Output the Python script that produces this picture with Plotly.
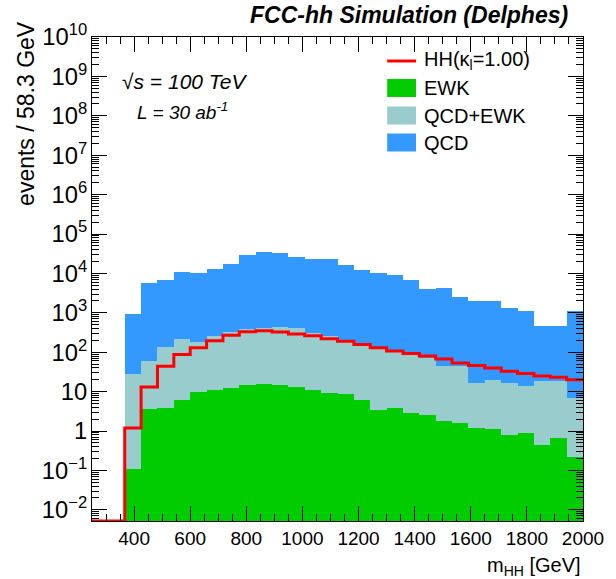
import numpy as np
import plotly.graph_objects as go

# ---------------- data ----------------
x_min, x_max = 250.0, 2000.0
n_bins = 30
y_log_min, y_log_max = -2.284, 10.0

# per-bin contributions (stacked), first two bins empty
ewk = [0, 0, 0.107, 3.6, 3.8, 6.3, 10, 11, 12.5, 15, 15.4, 14.4, 13.2, 11, 9.0,
       8.7, 6.3, 3.5, 3.8, 2.8, 2.6, 1.78, 1.64, 1.2, 1.1, 0.77, 0.9, 0.44, 0.65, 0.22]
qcd_ewk = [0, 0, 27.9, 56, 134, 207, 173, 249, 306, 365, 405, 431, 407, 289, 251,
           169, 144, 118, 96, 83, 69, 43, 43, 15.4, 18.4, 15.8, 12.9, 18.2, 18.0, 6.6]
qcd = [0, 0, 882, 5540, 6660, 10490, 10220, 12640, 17380, 29620, 33580, 32060, 25280,
       23300, 22440, 16020, 12150, 9880, 9000, 6914, 4028, 4255, 2405, 1983, 1980,
       1333, 1116, 441, 441, 1093]
hh = [0, 0, 1.2, 13, 44, 87, 129, 194, 270, 330, 350, 324, 288, 262, 218, 190, 158,
      130, 108, 93, 80, 67, 53, 46, 40, 33, 29, 25, 23, 20]

x_tick_vals = [400, 600, 800, 1000, 1200, 1400, 1600, 1800, 2000]

# ---------------- derived ----------------
edges = np.linspace(x_min, x_max, n_bins + 1)
centers = 0.5 * (edges[:-1] + edges[1:])
bw = edges[1] - edges[0]
floor = 10 ** y_log_min
hh_line = [v if v > 0 else floor for v in hh]
hh_line = hh_line + [hh_line[-1]]

C_EWK = "#00CC00"
C_QE = "#99CCCC"
C_QCD = "#3399FF"
C_HH = "#FF0000"
FONT = "Liberation Sans, Arial, Helvetica, sans-serif"

fig = go.Figure()
for vals, col, name in [(ewk, C_EWK, "EWK"), (qcd_ewk, C_QE, "QCD+EWK"), (qcd, C_QCD, "QCD")]:
    fig.add_trace(go.Bar(x=centers, y=vals, width=bw, marker=dict(color=col, line=dict(width=0)),
                         name=name, showlegend=False))
fig.add_trace(go.Scatter(x=edges, y=hh_line, mode="lines", line=dict(color=C_HH, width=3, shape="hv"),
                         showlegend=False))

# layout geometry (pixels)
W, H = 616, 579
L, R, T, B = 92, 586, 37, 521


def px(x):
    return (x - L) / (R - L)


def py(y):
    return (B - y) / (B - T)


fig.update_layout(
    width=W, height=H, barmode="stack", bargap=0,
    margin=dict(l=L, r=W - R, t=T, b=H - B, pad=0),
    plot_bgcolor="white", paper_bgcolor="white",
    font=dict(family=FONT, size=19, color="black"),
)
fig.update_xaxes(
    range=[x_min, x_max], tickvals=x_tick_vals, ticks="inside", ticklen=15, tickwidth=1,
    tickcolor="black", showline=True, linecolor="black", linewidth=1, mirror="allticks",
    showgrid=False, zeroline=False, tickfont=dict(size=19),
    minor=dict(ticks="inside", ticklen=7, tickcolor="black", dtick=50, tick0=0, showgrid=False),
)
fig.update_yaxes(
    type="log", range=[y_log_min, y_log_max], dtick=1, exponentformat="power",
    ticks="inside", ticklen=15, tickwidth=1, tickcolor="black", showline=True,
    linecolor="black", linewidth=1, mirror="allticks", showgrid=False, zeroline=False,
    tickfont=dict(size=19),
    minor=dict(ticks="inside", ticklen=7, tickcolor="black", dtick="D1", showgrid=False),
)

ann = []
ann.append(dict(text="<b><i>FCC-hh Simulation (Delphes)</i></b>", x=px(573), y=py(15),
                xref="paper", yref="paper", xanchor="right", yanchor="middle",
                showarrow=False, font=dict(size=23)))
ann.append(dict(text="events / 58.3 GeV", x=px(25), y=py(19), xref="paper", yref="paper",
                xanchor="center", yanchor="top", textangle=-90, showarrow=False,
                font=dict(size=23)))
ann.append(dict(text="m<sub>HH</sub> [GeV]", x=px(586), y=py(566), xref="paper", yref="paper",
                xanchor="right", yanchor="middle", showarrow=False, font=dict(size=20)))
ann.append(dict(text="<i>√s = 100 TeV</i>", x=px(120), y=py(82), xref="paper", yref="paper",
                xanchor="left", yanchor="middle", showarrow=False, font=dict(size=21)))
ann.append(dict(text="<i>L = 30 ab<sup>-1</sup></i>", x=px(135), y=py(111), xref="paper",
                yref="paper", xanchor="left", yanchor="middle", showarrow=False,
                font=dict(size=19)))

shapes = []
# legend
shapes.append(dict(type="line", xref="paper", yref="paper", x0=px(389), x1=px(418),
                   y0=py(61), y1=py(61), line=dict(color=C_HH, width=3)))
leg = [("EWK", C_EWK, 88), ("QCD+EWK", C_QE, 115.5), ("QCD", C_QCD, 142.5)]
for name, col, yc in leg:
    shapes.append(dict(type="rect", xref="paper", yref="paper", x0=px(389), x1=px(418),
                       y0=py(yc + 9), y1=py(yc - 9), fillcolor=col, line=dict(width=0)))
    ann.append(dict(text=name, x=px(424), y=py(yc), xref="paper", yref="paper",
                    xanchor="left", yanchor="middle", showarrow=False, font=dict(size=20)))
ann.append(dict(text="HH(κ<sub>l</sub>=1.00)", x=px(424), y=py(61), xref="paper", yref="paper",
                xanchor="left", yanchor="middle", showarrow=False, font=dict(size=20)))

fig.update_layout(annotations=ann, shapes=shapes)
fig.write_html("out.html")
